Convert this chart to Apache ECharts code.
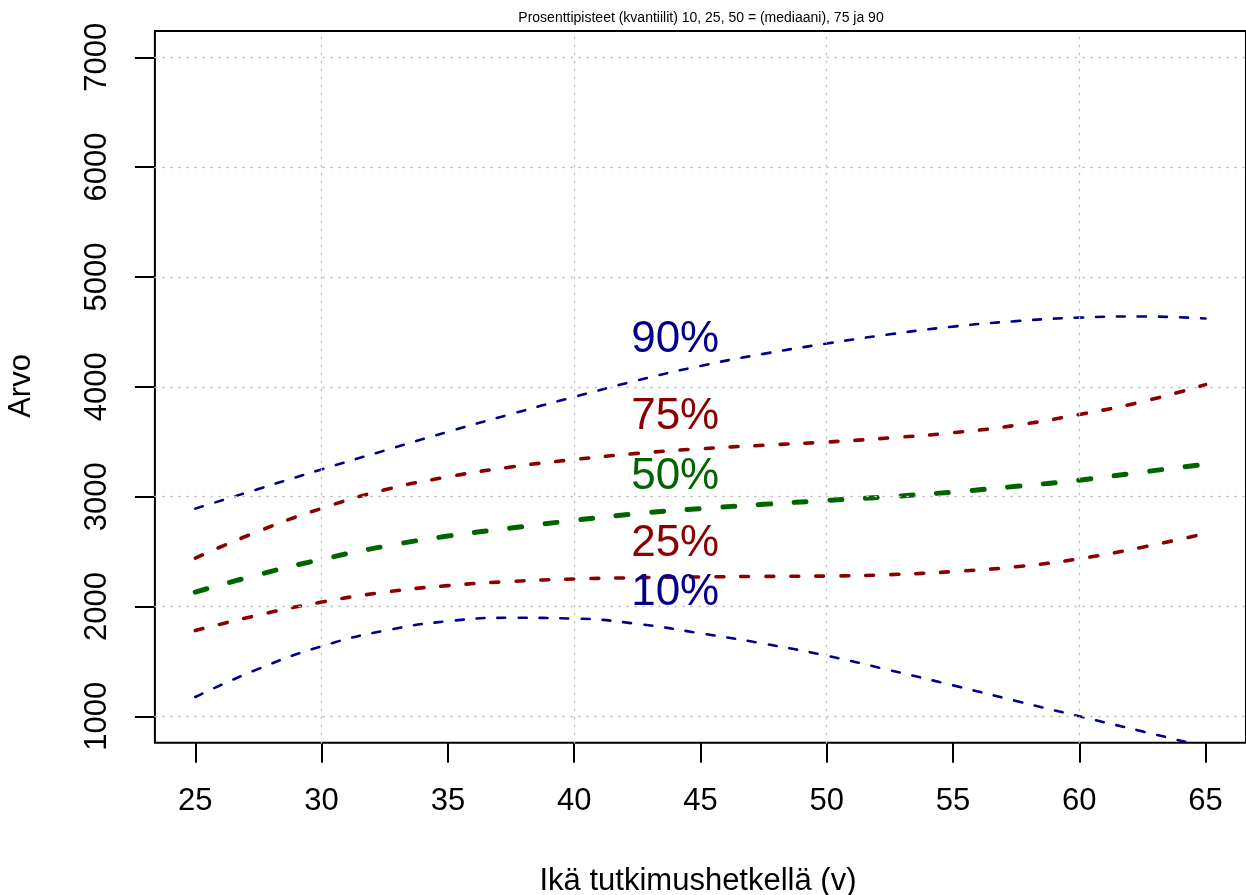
<!DOCTYPE html>
<html>
<head>
<meta charset="utf-8">
<style>
  html, body { margin: 0; padding: 0; background: #ffffff; }
  #chart { width: 1246px; height: 895px; }
</style>
<script src="https://cdn.jsdelivr.net/npm/echarts@6/dist/echarts.min.js"></script>
</head>
<body>
<div id="chart"></div>
<script>
// ---- Data ----
const ages = [25, 27.5, 30, 32.5, 35, 37.5, 40, 42.5, 45, 47.5, 50, 52.5, 55, 57.5, 60, 62.5, 65];
const p10 = [1176, 1432, 1638, 1780, 1866, 1897, 1890, 1842, 1756, 1662, 1552, 1420, 1282, 1140, 1000, 863, 722];
const p25 = [1781, 1922, 2040, 2130, 2190, 2228, 2250, 2262, 2269, 2274, 2277, 2290, 2318, 2362, 2435, 2540, 2665];
const p50 = [2131, 2290, 2429, 2548, 2641, 2714, 2784, 2845, 2891, 2930, 2966, 3000, 3042, 3094, 3150, 3224, 3295];
const p75 = [2441, 2685, 2893, 3062, 3180, 3270, 3338, 3394, 3436, 3468, 3497, 3535, 3582, 3650, 3748, 3865, 4020];
const p90 = [2891, 3070, 3248, 3420, 3590, 3752, 3908, 4058, 4190, 4300, 4394, 4478, 4548, 4598, 4630, 4640, 4622];

const labelTexts = ['90%', '75%', '50%', '25%', '10%'];
const labelAges = [44, 44, 44, 44, 44];
const labelValues = [4431, 3730, 3177, 2570, 2122];

const xTicks = [25, 30, 35, 40, 45, 50, 55, 60, 65];
const yTicks = [1000, 2000, 3000, 4000, 5000, 6000, 7000];
const gridX = [30, 40, 50, 60];
const gridY = [1000, 2000, 3000, 4000, 5000, 6000, 7000];

const titleText = 'Prosenttipisteet (kvantiilit) 10, 25, 50 = (mediaani), 75 ja 90';
const xTitle = 'Ikä tutkimushetkellä (v)';
const yTitle = 'Arvo';

// ---- Styles ----
const FONT = '"Liberation Sans", Arial, Helvetica, sans-serif';
const BLUE = '#00008B', RED = '#8B0000', GREEN = '#006400';
const lineStyles = {
  p90: { color: BLUE, width: 2.6, type: [8, 13] },
  p75: { color: RED, width: 3.6, type: [8, 17] },
  p50: { color: GREEN, width: 5, type: [12, 23.7] },
  p25: { color: RED, width: 3.6, type: [8, 17] },
  p10: { color: BLUE, width: 2.6, type: [8, 13] }
};
const labelColors = [BLUE, RED, GREEN, RED, BLUE];

function pairs(ys) { return ages.map((a, i) => [a, ys[i]]); }

const seriesDefs = [
  ['p90', p90], ['p75', p75], ['p50', p50], ['p25', p25], ['p10', p10]
];

const series = [];
// grid lines (dotted)
series.push({
  type: 'line', data: [], silent: true, z: 1,
  markLine: {
    silent: true, symbol: 'none', animation: false,
    label: { show: false },
    lineStyle: { color: '#c4c4c4', width: 1.4, type: [1.4, 6.6], cap: 'round' },
    data: gridX.map(v => ({ xAxis: v })).concat(gridY.map(v => ({ yAxis: v })))
  }
});
seriesDefs.forEach(([key, ys]) => {
  const s = lineStyles[key];
  series.push({
    type: 'line', name: key, data: pairs(ys), smooth: true, showSymbol: false,
    silent: true, z: 3, clip: true,
    lineStyle: { color: s.color, width: s.width, type: s.type, cap: 'round' }
  });
});
labelTexts.forEach((t, i) => {
  series.push({
    type: 'scatter', data: [[labelAges[i], labelValues[i]]], symbolSize: 0, silent: true, z: 5,
    itemStyle: { opacity: 1, color: labelColors[i] },
    label: {
      show: true, position: 'inside', formatter: t, opacity: 1,
      color: labelColors[i], fontSize: 44, fontFamily: FONT
    }
  });
});

const chart = echarts.init(document.getElementById('chart'), null, { renderer: 'canvas' });
chart.setOption({
  animation: false,
  backgroundColor: '#ffffff',
  grid: {
    left: 154.9, top: 30.9, width: 1092.2, height: 711.8,
    show: true, borderColor: '#000000', borderWidth: 2, backgroundColor: 'transparent',
    containLabel: false
  },
  xAxis: {
    type: 'value', min: 23.4, max: 66.6,
    axisLine: { show: false },
    splitLine: { show: false },
    axisTick: { show: true, inside: false, length: 20, customValues: xTicks,
      lineStyle: { color: '#000000', width: 2 } },
    axisLabel: { show: true, customValues: xTicks, margin: 43, fontSize: 31, lineHeight: 31,
      color: '#000000', fontFamily: FONT, hideOverlap: false, formatter: v => String(v) }
  },
  yAxis: {
    type: 'value', min: 760, max: 7240,
    axisLine: { show: false },
    splitLine: { show: false },
    axisTick: { show: true, inside: false, length: 20, customValues: yTicks,
      lineStyle: { color: '#000000', width: 2 } },
    axisLabel: { show: true, customValues: yTicks, rotate: 90, margin: 42, fontSize: 31, lineHeight: 31,
      color: '#000000', fontFamily: FONT, hideOverlap: false, formatter: v => String(v) }
  },
  graphic: [
    { type: 'text', x: 701, y: 18, silent: true,
      style: { text: titleText, fill: '#000000', font: '14px ' + FONT, align: 'center', verticalAlign: 'middle' } },
    { type: 'text', x: 698, y: 881, silent: true,
      style: { text: xTitle, fill: '#000000', font: '31px ' + FONT, align: 'center', verticalAlign: 'middle' } },
    { type: 'text', x: 21, y: 386, rotation: Math.PI / 2, silent: true,
      style: { text: yTitle, fill: '#000000', font: '31px ' + FONT, align: 'center', verticalAlign: 'middle' } }
  ],
  series: series
});
</script>
</body>
</html>
